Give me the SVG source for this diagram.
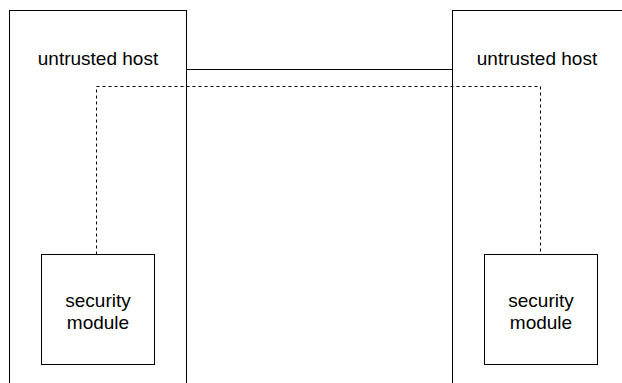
<svg xmlns="http://www.w3.org/2000/svg" width="622" height="383" viewBox="0 0 622 383">
  <style>
    .box { fill: #ffffff; stroke: #000000; stroke-width: 1; }
    .lbl { font-family: "Liberation Sans", Arial, sans-serif; font-size: 19px; fill: #000000; text-anchor: middle; }
    .link { fill: none; stroke: #000000; stroke-width: 1; }
    .dash { fill: none; stroke: #000000; stroke-width: 1; stroke-dasharray: 3 3; }
  </style>
  <rect width="622" height="383" fill="#ffffff"/>
  <g id="host-left">
    <rect class="box" x="9.5" y="10.5" width="177" height="400"/>
    <text class="lbl" x="98" y="65">untrusted host</text>
  </g>
  <g id="host-right">
    <rect class="box" x="452.5" y="10.5" width="200" height="400"/>
    <text class="lbl" x="537" y="65">untrusted host</text>
  </g>
  <g id="module-left">
    <rect class="box" x="41.5" y="254.5" width="113" height="110"/>
    <text class="lbl" x="98" y="306.5">security</text>
    <text class="lbl" x="98" y="328.5">module</text>
  </g>
  <g id="module-right">
    <rect class="box" x="484.5" y="254.5" width="113" height="110"/>
    <text class="lbl" x="541" y="306.5">security</text>
    <text class="lbl" x="541" y="328.5">module</text>
  </g>
  <g id="connectors">
    <path class="link" d="M186.5 69.5 H452.5"/>
    <path class="dash" d="M96.5 254.5 V86.5 H540.5 V254.5"/>
  </g>
</svg>
